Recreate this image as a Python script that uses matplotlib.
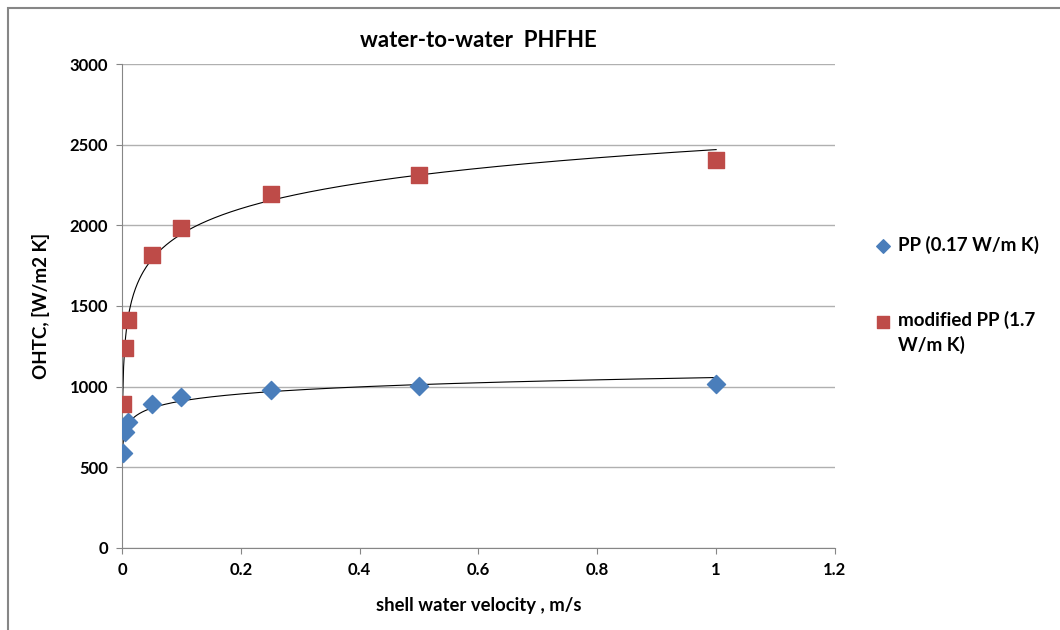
import numpy as np
import matplotlib.pyplot as plt
from matplotlib.patches import Rectangle

plt.rcParams['font.family'] = ['Lato', 'DejaVu Sans']

velocity = [0.001, 0.005, 0.01, 0.05, 0.1, 0.25, 0.5, 1.0]
pp = [590, 720, 780, 893, 937, 980, 1005, 1018]
pp_mod = [893, 1238, 1413, 1815, 1985, 2195, 2312, 2405]

labels = ['PP (0.17 W/m K)', 'modified PP (1.7\nW/m K)']

fig = plt.figure(figsize=(10.6, 6.3), dpi=100)
ax = fig.add_axes([0.1151, 0.1302, 0.6726, 0.7682])

# outer chart border like the spreadsheet frame
fig.patches.append(Rectangle((0.008, -0.01), 1.0, 0.997, transform=fig.transFigure,
                             fill=False, edgecolor='#868686', linewidth=1.5))

x = np.array(velocity)
# logarithmic trendlines
xs = np.linspace(x.min(), x.max(), 600)
for ys in (pp, pp_mod):
    a, b = np.polyfit(np.log(x), ys, 1)
    ax.plot(xs, a * np.log(xs) + b, color='black', lw=0.8, zorder=2)

ax.scatter(velocity, pp, marker='D', s=85, color='#4a7ebb', label=labels[0], zorder=3)
ax.scatter(velocity, pp_mod, marker='s', s=130, color='#be4b48', label=labels[1], zorder=3)

ax.set_xlim(0, 1.2)
ax.set_ylim(0, 3000)
ax.set_xticks(np.arange(0, 1.21, 0.2))
ax.set_xticklabels(['0', '0.2', '0.4', '0.6', '0.8', '1', '1.2'])
ax.set_yticks(np.arange(0, 3001, 500))
ax.grid(axis='y', color='#b0b0b0', lw=1)
ax.set_axisbelow(True)
for s in ['top', 'right']:
    ax.spines[s].set_visible(False)
for s in ['left', 'bottom']:
    ax.spines[s].set_color('#868686')
ax.tick_params(length=4, color='#868686', labelsize=12, pad=6)
for t in ax.get_xticklabels() + ax.get_yticklabels():
    t.set_fontweight('bold')

ax.set_title('water-to-water  PHFHE', fontsize=16, fontweight='bold', pad=12)
ax.set_xlabel('shell water velocity , m/s', fontsize=13.3, fontweight='bold', labelpad=14)
ax.set_ylabel('OHTC, [W/m2 K]', fontsize=13.5, fontweight='bold', labelpad=14)

leg = ax.legend(loc='center left', bbox_to_anchor=(1.03, 0.523), frameon=False,
                labelspacing=3.0, handletextpad=0.3, handlelength=1.0, markerscale=0.75,
                prop={'weight': 'bold', 'size': 13.5})
for t in leg.get_texts():
    t.set_linespacing(1.45)
# excel puts the marker next to the first line of a wrapped entry
h = leg.legend_handles[1]
off = h.get_offsets()
off[:, 1] += 9
h.set_offsets(off)

fig.savefig('out.png')
